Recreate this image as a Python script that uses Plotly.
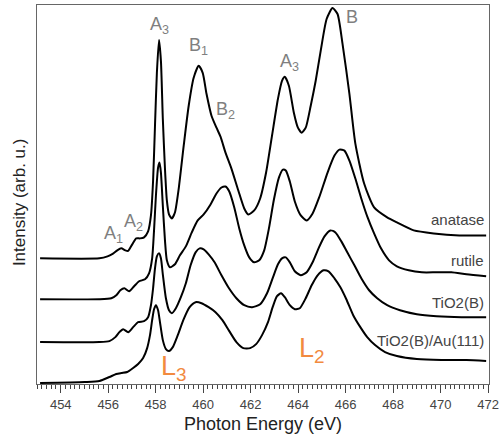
import plotly.graph_objects as go

# ---------------- data (photon energy in eV, intensity in arb. u.) ----------------
anatase_E = [453.13, 455.63, 455.97, 456.22, 456.38, 456.55, 456.72, 456.84, 457.01, 457.18,
             457.34, 457.51, 457.68, 457.80, 457.89, 457.97, 458.05, 458.14, 458.22, 458.30,
             458.39, 458.47, 458.56, 458.68, 458.81, 458.97, 459.18, 459.39, 459.60, 459.81,
             459.98, 460.14, 460.35, 460.56, 460.73, 460.94, 461.19, 461.48, 461.73, 461.90,
             462.15, 462.40, 462.65, 462.90, 463.15, 463.32, 463.44, 463.61, 463.82, 463.99,
             464.15, 464.32, 464.53, 464.74, 464.95, 465.20, 465.45, 465.66, 465.87, 466.16,
             466.41, 466.78, 467.20, 467.75, 468.16, 468.87, 469.71, 470.79, 471.92]
anatase_I = [126, 126, 128, 131, 134, 136, 134, 133.5, 140, 146,
             146, 147, 153, 169, 204, 259, 312, 345, 324, 266,
             216, 184, 170, 166, 172, 196, 239, 279, 307, 319,
             312, 291, 269, 257, 248, 232, 216, 194, 176, 170,
             174, 186, 212, 249, 286, 304, 308, 299, 272, 257,
             252, 257, 279, 304, 334, 366, 377, 371, 341, 291,
             241, 201, 177, 167, 162, 154, 151, 149, 149]

rutile_E = [453.13, 455.63, 456.13, 456.34, 456.51, 456.68, 456.88, 457.09, 457.30, 457.55,
            457.72, 457.85, 457.93, 458.01, 458.10, 458.16, 458.22, 458.30, 458.39, 458.47,
            458.60, 458.81, 459.02, 459.27, 459.52, 459.77, 460.02, 460.31, 460.56, 460.77,
            460.94, 461.10, 461.31, 461.52, 461.73, 461.94, 462.15, 462.36, 462.57, 462.77,
            462.98, 463.19, 463.36, 463.48, 463.65, 463.86, 464.11, 464.36, 464.61, 464.90,
            465.24, 465.53, 465.74, 465.95, 466.16, 466.41, 466.66, 466.91, 467.20, 467.49,
            467.83, 468.16, 468.66, 469.21, 469.83, 470.46, 471.09, 471.92]
rutile_I = [85, 85, 86, 89, 94, 96, 93, 98, 103, 105,
            111, 126, 154, 189, 217, 222, 212, 179, 144, 124,
            117, 120, 129, 138, 152, 164, 170, 180, 191, 197,
            198, 193, 177, 156, 139, 127, 122, 124, 134, 156,
            185, 207, 215, 214, 203, 183, 169, 164, 171, 188,
            212, 229, 235, 234, 224, 206, 186, 168, 151, 136,
            124, 118, 114, 112, 112, 112, 110, 108]

tio2b_E = [453.13, 455.63, 456.05, 456.30, 456.47, 456.63, 456.84, 457.05, 457.26, 457.51,
           457.68, 457.80, 457.89, 457.97, 458.05, 458.14, 458.22, 458.30, 458.43, 458.56,
           458.68, 458.85, 459.06, 459.27, 459.47, 459.68, 459.85, 460.02, 460.23, 460.48,
           460.77, 461.06, 461.40, 461.73, 462.06, 462.40, 462.69, 462.94, 463.15, 463.32,
           463.48, 463.65, 463.86, 464.11, 464.36, 464.61, 464.86, 465.11, 465.36, 465.57,
           465.82, 466.07, 466.37, 466.66, 466.99, 467.33, 467.75, 468.29, 469.00, 469.83,
           470.88, 471.92]
tio2b_I = [42, 42, 43, 47, 52, 55, 52, 57, 62, 63,
           67, 79, 96, 116, 128, 131, 126, 110, 86, 74,
           71, 76, 87, 101, 119, 132, 136, 135, 130, 122,
           109, 97, 86, 79, 77, 80, 91, 107, 120, 126,
           127, 122, 113, 109, 112, 122, 136, 148, 154, 152,
           143, 132, 119, 106, 94, 86, 79, 74, 70, 68,
           67, 67]

tio2b_au_E = [453.13, 455.01, 455.63, 456.05, 456.34, 456.55, 456.80, 457.05, 457.26, 457.47,
              457.64, 457.76, 457.85, 457.93, 458.01, 458.10, 458.18, 458.30, 458.43, 458.56,
              458.72, 458.93, 459.18, 459.43, 459.68, 459.93, 460.23, 460.52, 460.81, 461.10,
              461.40, 461.69, 461.98, 462.23, 462.48, 462.73, 462.94, 463.11, 463.28, 463.44,
              463.65, 463.86, 464.07, 464.32, 464.57, 464.82, 465.07, 465.28, 465.53, 465.78,
              466.03, 466.32, 466.62, 466.91, 467.24, 467.66, 468.16, 469.00, 470.04, 471.09,
              471.92]
tio2b_au_I = [1, 2, 3, 7, 10, 11, 12, 16, 20, 26,
              36, 49, 64, 75, 79, 74, 62, 44, 35, 33,
              37, 49, 65, 77, 82, 81, 77, 72, 64, 53,
              42, 36, 36, 40, 49, 62, 78, 88, 91, 87,
              79, 75, 76, 86, 99, 109, 114, 113, 106, 97,
              85, 69, 57, 47, 39, 32, 28, 25, 24, 24,
              23]

series_names = ["anatase", "rutile", "TiO2(B)", "TiO2(B)/Au(111)"]
series_E = [anatase_E, rutile_E, tio2b_E, tio2b_au_E]
series_I = [anatase_I, rutile_I, tio2b_I, tio2b_au_I]
label_I = [165, 124, 82, 44]

x_tick_vals = [454, 456, 458, 460, 462, 464, 466, 468, 470, 472]

# peak labels: (text, energy, intensity)
peak_labels = [("A<sub>1</sub>", 456.22, 150), ("A<sub>2</sub>", 457.05, 162),
               ("A<sub>3</sub>", 458.18, 359), ("B<sub>1</sub>", 459.82, 338),
               ("B<sub>2</sub>", 460.95, 274), ("A<sub>3</sub>", 463.65, 322),
               ("B", 466.25, 368)]
edge_labels = [("L<sub>3</sub>", 458.76, 16), ("L<sub>2</sub>", 464.57, 34)]

FONT = "Liberation Sans, Arial, Helvetica, sans-serif"

fig = go.Figure()
for name, E, I in zip(series_names, series_E, series_I):
    fig.add_trace(go.Scatter(x=E, y=I, mode="lines", name=name,
                             line=dict(color="black", width=2, shape="spline", smoothing=0.6),
                             showlegend=False, hoverinfo="skip"))

annotations = []
for name, yv in zip(series_names, label_I):
    annotations.append(dict(x=471.92, y=yv, xref="x", yref="y", text=name, showarrow=False,
                            xanchor="right", yanchor="middle",
                            font=dict(family=FONT, size=15, color="#444444")))
for txt, xv, yv in peak_labels:
    annotations.append(dict(x=xv, y=yv, xref="x", yref="y", text=txt, showarrow=False,
                            xanchor="center", yanchor="middle",
                            font=dict(family=FONT, size=18, color="#7f7f7f")))
for txt, xv, yv in edge_labels:
    annotations.append(dict(x=xv, y=yv, xref="x", yref="y", text=txt, showarrow=False,
                            xanchor="center", yanchor="middle",
                            font=dict(family=FONT, size=27, color="#F28A3F")))
annotations.append(dict(x=-0.0384, y=0.479, xref="paper", yref="paper",
                        text="Intensity (arb. u.)", textangle=-90, showarrow=False,
                        xanchor="center", yanchor="middle",
                        font=dict(family=FONT, size=17, color="#222222")))

fig.update_layout(
    width=503, height=435,
    margin=dict(l=37, r=10, t=4, b=51),
    paper_bgcolor="white", plot_bgcolor="white",
    font=dict(family=FONT, color="#333333"),
    annotations=annotations,
    xaxis=dict(range=[453, 472.04], tickvals=x_tick_vals, ticks="outside", ticklen=8,
               tickwidth=1, tickcolor="#444444", showgrid=False, zeroline=False,
               showline=True, linecolor="#666666", linewidth=1, mirror=True,
               tickfont=dict(family=FONT, size=13, color="#444444"),
               minor=dict(dtick=0.2, ticks="outside", ticklen=4, tickcolor="#444444", showgrid=False),
               title=dict(text="Photon Energy (eV)", standoff=6,
                          font=dict(family=FONT, size=18, color="#222222"))),
    yaxis=dict(range=[0, 380], showticklabels=False, ticks="", showgrid=False, zeroline=False,
               showline=True, linecolor="#666666", linewidth=1, mirror=True),
)

fig.write_html("out.html", config={"displayModeBar": False},
               post_script="document.body.style.margin='0';document.body.style.overflow='hidden';")
